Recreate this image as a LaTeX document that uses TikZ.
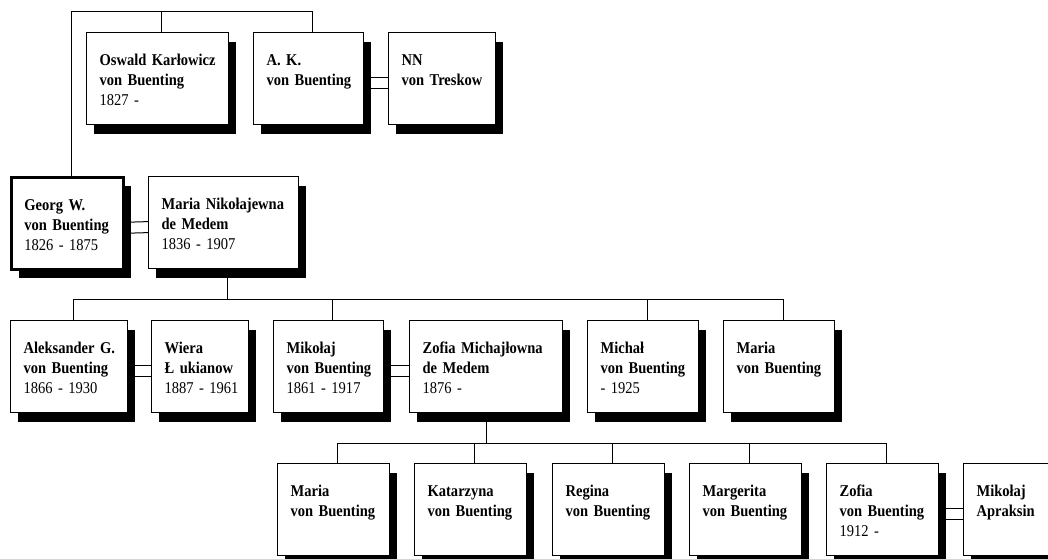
\documentclass[tikz,border=0pt]{standalone}
\usepackage{fontspec}
\setmainfont{Liberation Serif}[FakeStretch=0.88]
\usetikzlibrary{shadows}
\hyphenpenalty=10000
\exhyphenpenalty=10000
\begin{document}
\begin{tikzpicture}[x=1pt,y=-1pt,
        person/.style={rectangle,draw=black,fill=white,line width=1.2pt,
          anchor=north west,inner xsep=13pt,inner ysep=0pt,minimum height=92pt,
          align=left,text height=12pt,text depth=38pt,
          font=\fontsize{16.5}{20}\selectfont,
          drop shadow={shadow xshift=7.5pt,shadow yshift=-9pt,fill=black,opacity=1}},
        link/.style={line width=1pt}]
      \path[use as bounding box,clip] (0,0) rectangle (1048,558);
      % generation 1
      \node (oswald) at (86,32) [person,text width=116pt] {\textbf{Oswald~Karłowicz}\\\textbf{von~Buenting}\\1827~-};
      \node (ak) at (253,32) [person,text width=84pt] {\textbf{A.~K.}\\\textbf{von~Buenting}};
      \node (nn) at (388,32) [person,text width=81pt] {\textbf{NN}\\\textbf{von~Treskow}};
      \node (georg) at (10,176) [person,text width=86pt,line width=2.6pt] {\textbf{Georg~W.}\\\textbf{von~Buenting}\\1826~-~1875};
      \node (marian) at (148,176) [person,text width=124pt] {\textbf{Maria~Nikołajewna}\\\textbf{de~Medem}\\1836~-~1907};
      % generation 2
      \node (aleks) at (10,320) [person,text width=91pt] {\textbf{Aleksander~G.}\\\textbf{von~Buenting}\\1866~-~1930};
      \node (wiera) at (151,320) [person,text width=71pt] {\textbf{Wiera}\\\textbf{Ł~ukianow}\\1887~-~1961};
      \node (mikolaj) at (273,320) [person,text width=84pt] {\textbf{Mikołaj}\\\textbf{von~Buenting}\\1861~-~1917};
      \node (zofiam) at (409,320) [person,text width=127pt] {\textbf{Zofia~Michajłowna}\\\textbf{de~Medem}\\1876~-};
      \node (michal) at (587,320) [person,text width=85pt] {\textbf{Michał}\\\textbf{von~Buenting}\\-~1925};
      \node (maria) at (723,320) [person,text width=85pt] {\textbf{Maria}\\\textbf{von~Buenting}};
      % generation 3
      \node (maria2) at (277,463) [person,text width=86pt] {\textbf{Maria}\\\textbf{von~Buenting}};
      \node (katarzyna) at (414,463) [person,text width=86pt] {\textbf{Katarzyna}\\\textbf{von~Buenting}};
      \node (regina) at (552,463) [person,text width=86pt] {\textbf{Regina}\\\textbf{von~Buenting}};
      \node (margerita) at (689,463) [person,text width=86pt] {\textbf{Margerita}\\\textbf{von~Buenting}};
      \node (zofia) at (826,463) [person,text width=86pt] {\textbf{Zofia}\\\textbf{von~Buenting}\\1912~-};
      \node (apraksin) at (963,463) [person,text width=86pt] {\textbf{Mikołaj}\\\textbf{Apraksin}};
      % siblings on top
      \draw[link] ([xshift=4pt]georg.north) -- ++(0,-165) -| ([xshift=4pt]ak.north);
      \draw[link] ([xshift=4pt]oswald.north) -- ++(0,-21);
      % marriages
      \draw[link] ([yshift=1pt]ak.east) -- ([yshift=1pt]nn.west);
      \draw[link] ([yshift=-10pt]ak.east) -- ([yshift=-10pt]nn.west);
      \draw[link] ([yshift=1pt]georg.east) -- ([yshift=1pt]marian.west);
      \draw[link] ([yshift=-10pt]georg.east) -- ([yshift=-10pt]marian.west);
      \draw[link] ([yshift=1pt]aleks.east) -- ([yshift=1pt]wiera.west);
      \draw[link] ([yshift=-10pt]aleks.east) -- ([yshift=-10pt]wiera.west);
      \draw[link] ([yshift=1pt]mikolaj.east) -- ([yshift=1pt]zofiam.west);
      \draw[link] ([yshift=-10pt]mikolaj.east) -- ([yshift=-10pt]zofiam.west);
      \draw[link] ([yshift=1pt]zofia.east) -- ([yshift=1pt]apraksin.west);
      \draw[link] ([yshift=-10pt]zofia.east) -- ([yshift=-10pt]apraksin.west);
      % children of Georg
      \draw[link] ([xshift=4pt]marian.south) -- ++(0,30) coordinate (bar1);
      \draw[link] ([xshift=4pt]aleks.north) |- (bar1) -| ([xshift=4pt]maria.north);
      \draw[link] ([xshift=4pt]mikolaj.north) -- ([xshift=4pt]mikolaj.north |- bar1);
      \draw[link] ([xshift=4pt]michal.north) -- ([xshift=4pt]michal.north |- bar1);
      % children of Mikolaj
      \draw[link] (zofiam.south) -- ++(0,30) coordinate (bar2);
      \draw[link] ([xshift=4pt]maria2.north) |- (bar2) -| ([xshift=4pt]zofia.north);
      \draw[link] ([xshift=4pt]katarzyna.north) -- ([xshift=4pt]katarzyna.north |- bar2);
      \draw[link] ([xshift=4pt]regina.north) -- ([xshift=4pt]regina.north |- bar2);
      \draw[link] ([xshift=4pt]margerita.north) -- ([xshift=4pt]margerita.north |- bar2);
\end{tikzpicture}
\end{document}
